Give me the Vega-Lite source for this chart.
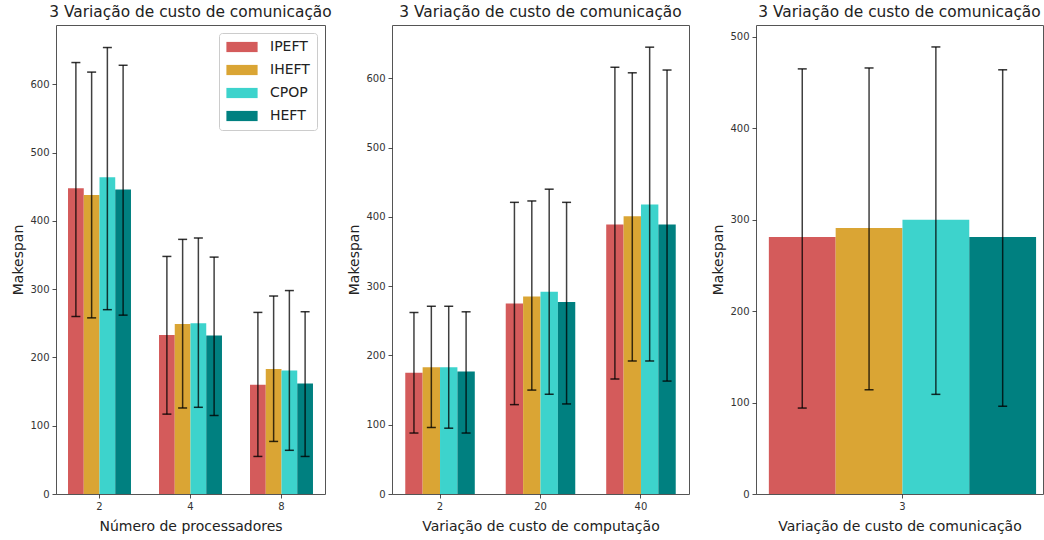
{
  "$schema": "https://vega.github.io/schema/vega-lite/v6.json",
  "background": "white",
  "padding": {"left": 11, "top": 4, "right": 0, "bottom": 2},
  "bounds": "flush",
  "spacing": 67,
  "config": {
    "font": "DejaVu Sans",
    "view": {"stroke": "#555", "strokeWidth": 1},
    "axis": {"domain": false, "grid": false, "tickColor": "#222", "tickSize": 4, "tickWidth": 0.8, "labelFont": "DejaVu Sans", "labelFontSize": 10, "labelColor": "#333", "titleFont": "DejaVu Sans", "titleFontSize": 14, "titleFontWeight": "normal", "titleColor": "#222", "labelPadding": 3},
    "axisX": {"titlePadding": 8},
    "title": {"font": "DejaVu Sans", "fontSize": 15.4, "fontWeight": "normal", "color": "#222", "offset": 5}
  },
  "resolve": {"scale": {"color": "independent", "xOffset": "independent"}, "legend": {"color": "independent"}},
  "hconcat": [
    {
      "width": 269, "height": 469,
      "title": "3 Variação de custo de comunicação",
      "data": {"values": [
        {"g": "2", "alg": "IPEFT", "mean": 448, "lo": 260, "hi": 632},
        {"g": "2", "alg": "IHEFT", "mean": 438, "lo": 258, "hi": 618},
        {"g": "2", "alg": "CPOP", "mean": 464, "lo": 270, "hi": 654},
        {"g": "2", "alg": "HEFT", "mean": 446, "lo": 262, "hi": 628},
        {"g": "4", "alg": "IPEFT", "mean": 233, "lo": 117, "hi": 348},
        {"g": "4", "alg": "IHEFT", "mean": 249, "lo": 126, "hi": 373},
        {"g": "4", "alg": "CPOP", "mean": 250, "lo": 127, "hi": 375},
        {"g": "4", "alg": "HEFT", "mean": 232, "lo": 115, "hi": 347},
        {"g": "8", "alg": "IPEFT", "mean": 160, "lo": 55, "hi": 266},
        {"g": "8", "alg": "IHEFT", "mean": 183, "lo": 77, "hi": 290},
        {"g": "8", "alg": "CPOP", "mean": 181, "lo": 64, "hi": 298},
        {"g": "8", "alg": "HEFT", "mean": 162, "lo": 55, "hi": 267}
      ]},
      "encoding": {
        "x": {"field": "g", "type": "ordinal", "sort": ["2", "4", "8"], "scale": {"paddingInner": 0.308, "paddingOuter": 0.132}, "axis": {"title": "Número de processadores", "labelAngle": 0}},
        "xOffset": {"field": "alg", "type": "nominal", "sort": ["IPEFT", "IHEFT", "CPOP", "HEFT"], "scale": {"paddingInner": 0, "paddingOuter": 0}}
      },
      "layer": [
        {"mark": {"type": "bar"}, "encoding": {
          "y": {"field": "mean", "type": "quantitative", "scale": {"domain": [0, 687], "nice": false}, "axis": {"title": "Makespan", "values": [0, 100, 200, 300, 400, 500, 600]}},
          "color": {"field": "alg", "type": "nominal", "sort": ["IPEFT", "IHEFT", "CPOP", "HEFT"], "scale": {"domain": ["IPEFT", "IHEFT", "CPOP", "HEFT"], "range": ["#D45B5B", "#DAA534", "#3DD3CC", "#008080"]},
            "legend": {"title": null, "orient": "top-right", "offset": 8, "labelFontSize": 14, "labelFont": "DejaVu Sans", "labelColor": "#222", "symbolType": "M-2.6,-0.85H2.6V0.85H-2.6Z", "symbolSize": 144, "symbolStrokeWidth": 0, "symbolOpacity": 1, "fillColor": "white", "strokeColor": "#ccc", "cornerRadius": 3, "padding": 7, "rowPadding": 9, "labelOffset": 21, "symbolOffset": 9}}
        }},
        {"mark": {"type": "rule", "color": "black", "opacity": 0.75, "strokeWidth": 1.5}, "encoding": {
          "y": {"field": "lo", "type": "quantitative", "axis": {"title": "Makespan"}}, "y2": {"field": "hi"}}},
        {"mark": {"type": "tick", "color": "black", "size": 9, "thickness": 1.5, "opacity": 0.8}, "encoding": {
          "y": {"field": "lo", "type": "quantitative", "axis": {"title": "Makespan"}}}},
        {"mark": {"type": "tick", "color": "black", "size": 9, "thickness": 1.5, "opacity": 0.8}, "encoding": {
          "y": {"field": "hi", "type": "quantitative", "axis": {"title": "Makespan"}}}}
      ]
    },
    {
      "width": 297, "height": 469,
      "title": "3 Variação de custo de comunicação",
      "data": {"values": [
        {"g": "2", "alg": "IPEFT", "mean": 175, "lo": 88, "hi": 262},
        {"g": "2", "alg": "IHEFT", "mean": 183, "lo": 96, "hi": 271},
        {"g": "2", "alg": "CPOP", "mean": 183, "lo": 95, "hi": 271},
        {"g": "2", "alg": "HEFT", "mean": 177, "lo": 88, "hi": 263},
        {"g": "20", "alg": "IPEFT", "mean": 275, "lo": 129, "hi": 421},
        {"g": "20", "alg": "IHEFT", "mean": 285, "lo": 150, "hi": 423},
        {"g": "20", "alg": "CPOP", "mean": 292, "lo": 144, "hi": 440},
        {"g": "20", "alg": "HEFT", "mean": 277, "lo": 130, "hi": 421},
        {"g": "40", "alg": "IPEFT", "mean": 389, "lo": 166, "hi": 616},
        {"g": "40", "alg": "IHEFT", "mean": 401, "lo": 192, "hi": 608},
        {"g": "40", "alg": "CPOP", "mean": 418, "lo": 192, "hi": 645},
        {"g": "40", "alg": "HEFT", "mean": 389, "lo": 163, "hi": 612}
      ]},
      "encoding": {
        "x": {"field": "g", "type": "ordinal", "sort": ["2", "20", "40"], "scale": {"paddingInner": 0.308, "paddingOuter": 0.132}, "axis": {"title": "Variação de custo de computação", "labelAngle": 0}},
        "xOffset": {"field": "alg", "type": "nominal", "sort": ["IPEFT", "IHEFT", "CPOP", "HEFT"], "scale": {"paddingInner": 0, "paddingOuter": 0}}
      },
      "layer": [
        {"mark": {"type": "bar"}, "encoding": {
          "y": {"field": "mean", "type": "quantitative", "scale": {"domain": [0, 677], "nice": false}, "axis": {"title": "Makespan", "values": [0, 100, 200, 300, 400, 500, 600]}},
          "color": {"field": "alg", "type": "nominal", "scale": {"domain": ["IPEFT", "IHEFT", "CPOP", "HEFT"], "range": ["#D45B5B", "#DAA534", "#3DD3CC", "#008080"]}, "legend": null}
        }},
        {"mark": {"type": "rule", "color": "black", "opacity": 0.75, "strokeWidth": 1.5}, "encoding": {
          "y": {"field": "lo", "type": "quantitative", "axis": {"title": "Makespan"}}, "y2": {"field": "hi"}}},
        {"mark": {"type": "tick", "color": "black", "size": 9, "thickness": 1.5, "opacity": 0.8}, "encoding": {
          "y": {"field": "lo", "type": "quantitative", "axis": {"title": "Makespan"}}}},
        {"mark": {"type": "tick", "color": "black", "size": 9, "thickness": 1.5, "opacity": 0.8}, "encoding": {
          "y": {"field": "hi", "type": "quantitative", "axis": {"title": "Makespan"}}}}
      ]
    },
    {
      "width": 287, "height": 469,
      "title": "3 Variação de custo de comunicação",
      "data": {"values": [
        {"g": "3", "alg": "IPEFT", "mean": 281, "lo": 94, "hi": 465},
        {"g": "3", "alg": "IHEFT", "mean": 291, "lo": 114, "hi": 466},
        {"g": "3", "alg": "CPOP", "mean": 300, "lo": 109, "hi": 489},
        {"g": "3", "alg": "HEFT", "mean": 281, "lo": 96, "hi": 464}
      ]},
      "encoding": {
        "x": {"field": "g", "type": "ordinal", "scale": {"paddingInner": 0, "paddingOuter": 0.037, "align": 0.65}, "axis": {"title": "Variação de custo de comunicação", "labelAngle": 0}},
        "xOffset": {"field": "alg", "type": "nominal", "sort": ["IPEFT", "IHEFT", "CPOP", "HEFT"], "scale": {"paddingInner": 0, "paddingOuter": 0}}
      },
      "layer": [
        {"mark": {"type": "bar"}, "encoding": {
          "y": {"field": "mean", "type": "quantitative", "scale": {"domain": [0, 513], "nice": false}, "axis": {"title": "Makespan", "values": [0, 100, 200, 300, 400, 500]}},
          "color": {"field": "alg", "type": "nominal", "scale": {"domain": ["IPEFT", "IHEFT", "CPOP", "HEFT"], "range": ["#D45B5B", "#DAA534", "#3DD3CC", "#008080"]}, "legend": null}
        }},
        {"mark": {"type": "rule", "color": "black", "opacity": 0.75, "strokeWidth": 1.5}, "encoding": {
          "y": {"field": "lo", "type": "quantitative", "axis": {"title": "Makespan"}}, "y2": {"field": "hi"}}},
        {"mark": {"type": "tick", "color": "black", "size": 9, "thickness": 1.5, "opacity": 0.8}, "encoding": {
          "y": {"field": "lo", "type": "quantitative", "axis": {"title": "Makespan"}}}},
        {"mark": {"type": "tick", "color": "black", "size": 9, "thickness": 1.5, "opacity": 0.8}, "encoding": {
          "y": {"field": "hi", "type": "quantitative", "axis": {"title": "Makespan"}}}}
      ]
    }
  ]
}
